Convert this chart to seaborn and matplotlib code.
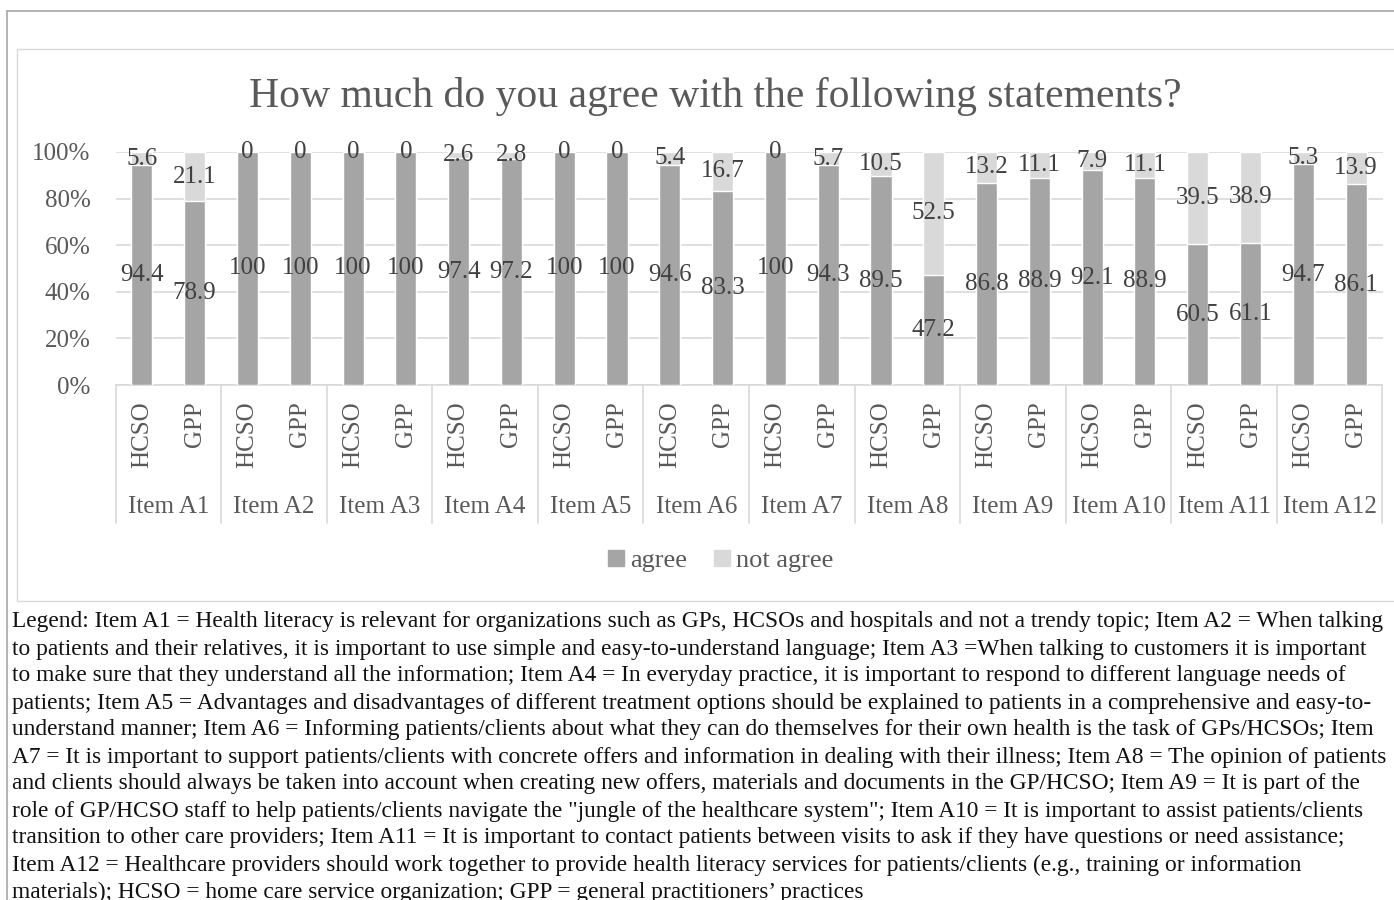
import matplotlib
matplotlib.use("Agg")
import matplotlib.pyplot as plt
from matplotlib.lines import Line2D
from matplotlib.patches import Rectangle, Patch
from matplotlib.transforms import blended_transform_factory
import pandas as pd
import seaborn as sns

# ---- data -------------------------------------------------------------
items = [f"Item A{i}" for i in range(1, 13)]
groups = ["HCSO", "GPP"]
agree = [94.4, 78.9, 100, 100, 100, 100, 97.4, 97.2, 100, 100, 94.6, 83.3,
         100, 94.3, 89.5, 47.2, 86.8, 88.9, 92.1, 88.9, 60.5, 61.1, 94.7, 86.1]
not_agree = [5.6, 21.1, 0, 0, 0, 0, 2.6, 2.8, 0, 0, 5.4, 16.7,
             0, 5.7, 10.5, 52.5, 13.2, 11.1, 7.9, 11.1, 39.5, 38.9, 5.3, 13.9]
yticks = [0, 20, 40, 60, 80, 100]
title = "How much do you agree with the following statements?"
legend_lines = [
    "Legend: Item A1 = Health literacy is relevant for organizations such as GPs, HCSOs and hospitals and not a trendy topic; Item A2 = When talking",
    "to patients and their relatives, it is important to use simple and easy-to-understand language; Item A3 =When talking to customers it is important",
    "to make sure that they understand all the information; Item A4 = In everyday practice, it is important to respond to different language needs of",
    "patients; Item A5 = Advantages and disadvantages of different treatment options should be explained to patients in a comprehensive and easy-to-",
    "understand manner; Item A6 = Informing patients/clients about what they can do themselves for their own health is the task of GPs/HCSOs; Item",
    "A7 = It is important to support patients/clients with concrete offers and information in dealing with their illness; Item A8 = The opinion of patients",
    "and clients should always be taken into account when creating new offers, materials and documents in the GP/HCSO; Item A9 = It is part of the",
    "role of GP/HCSO staff to help patients/clients navigate the \"jungle of the healthcare system\"; Item A10 = It is important to assist patients/clients",
    "transition to other care providers; Item A11 = It is important to contact patients between visits to ask if they have questions or need assistance;",
    "Item A12 = Healthcare providers should work together to provide health literacy services for patients/clients (e.g., training or information",
    "materials); HCSO = home care service organization; GPP = general practitioners\u2019 practices",
]

# ---- table ------------------------------------------------------------
rows = []
for k, (a, n) in enumerate(zip(agree, not_agree)):
    total = a + n
    rows.append({
        "slot": f"{items[k // 2]}|{groups[k % 2]}",
        "group": groups[k % 2],
        "agree": a, "not_agree": n,
        "agree_pct": a / total * 100,
        "total_pct": 100.0,
    })
df = pd.DataFrame(rows)

C_AGREE = "#a5a5a5"
C_NOT = "#d9d9d9"
C_TEXT = "#595959"
C_LABEL = "#404040"
SERIF = ["Liberation Serif", "DejaVu Serif"]
FS = 18

sns.set_theme(style="white")
plt.rcParams["font.family"] = SERIF

W, H = 1394, 900
fig = plt.figure(figsize=(W / 100, H / 100), dpi=100)

def fx(px):
    return px / W

def fy(py):
    return 1 - py / H

# frames
fig.add_artist(Line2D([fx(7), fx(7)], [fy(11), fy(900)], color="#a6a6a6", lw=1.2))
fig.add_artist(Line2D([fx(7), fx(1394)], [fy(11), fy(11)], color="#a6a6a6", lw=1.2))
fig.add_artist(Rectangle((fx(17), fy(601)), fx(1400) - fx(17), fy(49) - fy(601),
                         transform=fig.transFigure, fill=False, ec="#d9d9d9", lw=1.0))

x0, x1, ytop, ybot = 115.5, 1382.5, 152, 385
ax = fig.add_axes([fx(x0), fy(ybot), fx(x1) - fx(x0), fy(ytop) - fy(ybot)])

sns.barplot(data=df, x="slot", y="total_pct", color=C_NOT, width=0.4,
            saturation=1, ax=ax, zorder=2)
sns.barplot(data=df, x="slot", y="agree_pct", color=C_AGREE, width=0.4,
            saturation=1, ax=ax, zorder=3)

ax.set_ylim(0, 100)
ax.set_xlim(-0.5, len(df) - 0.5)
ax.set_yticks(yticks)
ax.set_yticklabels([f"{t}%" for t in yticks], fontsize=FS, color=C_TEXT)
ax.tick_params(axis="y", length=0, pad=18)
ax.set_xticks(range(len(df)))
ax.set_xticklabels(df["group"], rotation=90, fontsize=FS, color=C_TEXT)
ax.tick_params(axis="x", length=0, pad=12)
ax.set_xlabel("")
ax.set_ylabel("")
ax.grid(axis="y", color="#d9d9d9", lw=1.2, zorder=0)
ax.set_axisbelow(True)
for s in ["top", "right", "left"]:
    ax.spines[s].set_visible(False)
ax.spines["bottom"].set_color("#d9d9d9")
ax.spines["bottom"].set_linewidth(1.2)

# data labels, centred in each segment
for i, r in df.iterrows():
    ax.text(i, r["agree_pct"] / 2, f"{r['agree']:g}", ha="center", va="center",
            fontsize=FS, color=C_LABEL, zorder=5)
    ax.text(i, r["agree_pct"] + (100 - r["agree_pct"]) / 2, f"{r['not_agree']:g}",
            ha="center", va="center", fontsize=FS, color=C_LABEL, zorder=5)

# two-level category axis: item names and group separators
bt = blended_transform_factory(ax.transData, fig.transFigure)
for g in range(len(items) + 1):
    xb = 2 * g - 0.5
    ax.add_artist(Line2D([xb, xb], [fy(385), fy(523)], transform=bt, color="#d9d9d9",
                         lw=1.2, clip_on=False))
for g, name in enumerate(items):
    ax.text(2 * g + 0.5, fy(507), name, transform=bt, ha="center", va="center",
            fontsize=FS, color=C_TEXT)

fig.text(fx(715), fy(96), title, ha="center", va="center", fontsize=30, color=C_TEXT)

handles = [Patch(color=C_AGREE, label="agree"), Patch(color=C_NOT, label="not agree")]
fig.legend(handles=handles, loc="center", bbox_to_anchor=(fx(721), fy(561)), ncol=2,
           frameon=False, fontsize=19, handlelength=0.6, handleheight=0.6,
           handletextpad=0.25, columnspacing=1.0, labelcolor=C_TEXT)

for k, line in enumerate(legend_lines):
    fig.text(fx(12), fy(622 + 27 * k), line, ha="left", va="center",
             fontsize=16.8, color="#111111")

fig.savefig("out.png", dpi=100)
